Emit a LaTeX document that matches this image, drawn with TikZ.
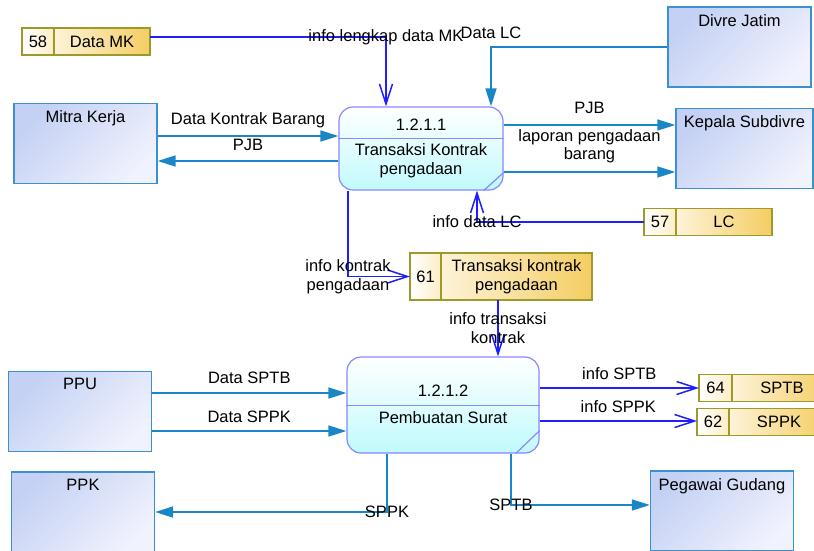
\documentclass[tikz,border=0pt]{standalone}
\usepackage{fontspec}
\setmainfont{Liberation Sans}
\usetikzlibrary{calc}
\usetikzlibrary{positioning}
\usetikzlibrary{arrows.meta}
\definecolor{flowblue}{HTML}{1A86C8}
\definecolor{infoblue}{HTML}{1E1EFF}
\definecolor{entline}{HTML}{3A90D0}
\definecolor{entdark}{HTML}{C4D1F4}
\definecolor{entlight}{HTML}{F0F2FD}
\definecolor{procline}{HTML}{8888FF}
\definecolor{proccyan}{HTML}{C0FAFD}
\definecolor{storeline}{HTML}{9C9A2A}
\definecolor{storegold}{HTML}{F4CD62}
\definecolor{storecream}{HTML}{FDF3D8}
\tikzset{
	entity/.style={draw=entline, line width=1.3pt, top color=entdark, bottom color=entlight, shading angle=45,
		minimum width=143pt, minimum height=80pt, inner sep=0pt,
		label={[below,inner sep=7.5pt]north:#1}},
	process/.style={draw=procline, line width=1.2pt, rounded corners=14pt, top color=white, bottom color=proccyan, inner sep=0pt},
	procdiv/.style={draw=procline, line width=1.2pt},
	storenum/.style={draw=storeline, line width=1.2pt, left color=white, right color=storecream!85!storegold,
		minimum height=27pt, inner sep=0pt, outer sep=0pt},
	storename/.style={draw=storeline, line width=1.2pt, left color=storecream, right color=storegold,
		minimum height=27pt, inner sep=0pt, outer sep=0pt, align=center},
	flow/.style={draw=flowblue, line width=1.6pt, -{Triangle[length=18pt,width=11pt]}},
	info/.style={draw=infoblue, line width=1.5pt, -{Straight Barb[length=20pt,width=13pt]}},
}
\begin{document}
\begin{tikzpicture}[x=1pt,y=-1pt,font=\fontsize{16.5}{18.5}\selectfont]
	\useasboundingbox (0,0) rectangle (814,550);
	\clip (0,0) rectangle (814,550);
	% external entities
	\node[entity=Mitra Kerja] (mitra) at (85.5,143.5) {};
	\node[entity=Divre Jatim] (divre) at (739.5,47) {};
	\node[entity=Kepala Subdivre, minimum width=137pt] (kepala) at (744.5,148.5) {};
	\node[entity=PPU] (ppu) at (80,411.5) {};
	\node[entity=PPK] (ppk) at (83,512) {};
	\node[entity=Pegawai Gudang] (gudang) at (722,511) {};
	% data stores
	\node[storenum, minimum width=32pt] (s58num) at (38,41.5) {58};
	\node[storename, minimum width=96pt, right=0pt of s58num] (s58name) {Data MK};
	\node[storenum, minimum width=32pt] (s57num) at (660,222) {57};
	\node[storename, minimum width=96pt, right=0pt of s57num] (s57name) {LC};
	\node[storenum, minimum width=31pt, minimum height=47pt] (s61num) at (425.5,276.5) {61};
	\node[storename, minimum width=151pt, minimum height=47pt, right=0pt of s61num] (s61name) {Transaksi kontrak\\pengadaan};
	\node[storenum, minimum width=33pt] (s64num) at (715.5,388) {64};
	\node[storename, minimum width=100pt, right=0pt of s64num] (s64name) {SPTB};
	\node[storenum, minimum width=32pt] (s62num) at (713,422) {62};
	\node[storename, minimum width=100pt, right=0pt of s62num] (s62name) {SPPK};
	% processes
	\node[process, minimum width=164pt, minimum height=83pt] (p1) at (421,148.5) {};
	\draw[procdiv] ($(p1.north west)+(0,32)$) -- ($(p1.north east)+(0,32)$);
	\draw[procdiv] ($(p1.south east)+(0,-18)$) -- ($(p1.south east)+(-20,0)$);
	\node at ($(p1.north)+(0,18)$) {1.2.1.1};
	\node[align=center] at ($(p1.north)+(0,54.5)$) {Transaksi Kontrak\\pengadaan};
	\node[process, minimum width=192pt, minimum height=96pt] (p2) at (443,405) {};
	\draw[procdiv] ($(p2.north west)+(0,49)$) -- ($(p2.north east)+(0,49)$);
	\draw[procdiv] ($(p2.south east)+(0,-23)$) -- ($(p2.south east)+(-24,0)$);
	\node at ($(p2.north)+(0,34)$) {1.2.1.2};
	\node at ($(p2.north)+(0,61)$) {Pembuatan Surat};
	% flows of process 1.2.1.1
	\draw[info] ($(s58name.east)+(0,-4.5)$) -| node[pos=0.5] {info lengkap data MK} ($(p1.north)+(-35,0)$);
	\draw[flow] (divre.west) -| node[pos=0.5, yshift=14pt] {Data LC} ($(p1.north)+(70,0)$);
	\draw[flow] ($(mitra.east)+(0,-7.5)$) coordinate (dkb) -- node[yshift=16pt] {Data Kontrak Barang} (dkb -| p1.west);
	\draw[flow] ($(p1.west)+(0,12.5)$) coordinate (pjbm) -- node[yshift=16pt] {PJB} (pjbm -| mitra.east);
	\draw[flow] ($(p1.east)+(0,-23.5)$) coordinate (pjbk) -- node[yshift=17pt] {PJB} (pjbk -| kepala.west);
	\draw[flow] ($(p1.east)+(0,23.5)$) coordinate (lap) -- node[yshift=26pt, align=center] {laporan pengadaan\\barang} (lap -| kepala.west);
	\draw[info] (s57num.west) -| node[pos=0.5] {info data LC} ($(p1.south)+(56,0)$);
	\draw[info] ($(p1.south)+(-73,0)$) |- node[pos=0.5, align=center] {info kontrak\\pengadaan} (s61num.west);
	\draw[info] ($(s61name.south)+(-18.5,0)$) coordinate (itk) -- node[align=center] {info transaksi\\kontrak} (itk |- p2.north);
	% flows of process 1.2.1.2
	\draw[flow] ($(ppu.east)+(0,-18.5)$) coordinate (dsptb) -- node[yshift=15pt] {Data SPTB} (dsptb -| p2.west);
	\draw[flow] ($(ppu.east)+(0,19.5)$) coordinate (dsppk) -- node[yshift=14pt] {Data SPPK} (dsppk -| p2.west);
	\draw[flow] ($(p2.south)+(-56,0)$) |- node[pos=0.5] {SPPK} (ppk.east);
	\draw[flow] ($(p2.south)+(68,0)$) |- node[pos=0.5] {SPTB} ($(gudang.west)+(0,-6)$);
	\draw[info] ($(p2.east)+(0,-17)$) coordinate (isptb) -- node[yshift=14pt] {info SPTB} (isptb -| s64num.west);
	\draw[info] ($(p2.east)+(0,16)$) coordinate (isppk) -- node[yshift=14pt] {info SPPK} (isppk -| s62num.west);
\end{tikzpicture}
\end{document}
